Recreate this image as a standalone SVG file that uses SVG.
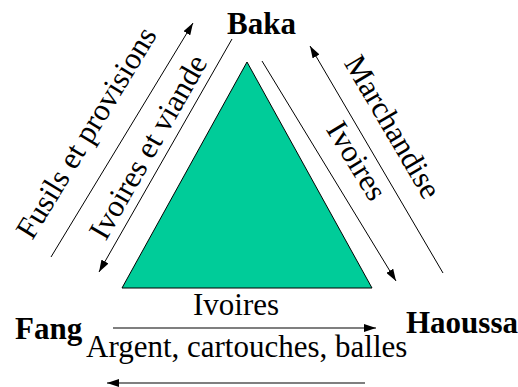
<svg xmlns="http://www.w3.org/2000/svg" width="518" height="387" viewBox="0 0 518 387">
<style>
text{font-family:'Liberation Serif','Times New Roman',serif;font-size:31px;fill:#000}
.b{font-weight:bold}
.ln{stroke:#000;stroke-width:1;fill:none}
.hz{stroke:#555;stroke-width:1.6;fill:none}
</style>
<defs>
<marker id="ah" viewBox="0 0 12 8" refX="12" refY="4" markerWidth="12" markerHeight="8" markerUnits="userSpaceOnUse" orient="auto">
<path d="M0,0 L12,4 L0,8 Z" fill="#000"/>
</marker>
</defs>
<rect width="518" height="387" fill="#fff"/>
<g id="triangle">
<polygon points="247,62 122,288 372,288" fill="#00CC99" stroke="#000" stroke-width="1"/>
</g>
<g id="baka"><text class="b" x="227" y="34">Baka</text></g>
<g id="fang"><text class="b" x="15" y="339">Fang</text></g>
<g id="haoussa"><text class="b" x="406" y="333">Haoussa</text></g>
<g id="connectors">
<line class="ln" x1="51" y1="257" x2="193" y2="23" marker-end="url(#ah)"/>
<line class="ln" x1="232" y1="39" x2="99" y2="272" marker-end="url(#ah)"/>
<line class="ln" x1="262" y1="61" x2="396" y2="281" marker-end="url(#ah)"/>
<line class="ln" x1="443" y1="273" x2="310" y2="46" marker-end="url(#ah)"/>
<line class="hz" x1="113" y1="328" x2="376" y2="328" marker-end="url(#ah)"/>
<line class="hz" x1="365" y1="383" x2="107" y2="383" marker-end="url(#ah)"/>
</g>
<g id="labels">
<text text-anchor="middle" transform="translate(95,138) rotate(-58.7)">Fusils et provisions</text>
<text text-anchor="middle" transform="translate(157,152) rotate(-60.3)">Ivoires et viande</text>
<text text-anchor="middle" transform="translate(348,166) rotate(58.6)">Ivoires</text>
<text text-anchor="middle" transform="translate(384,132) rotate(59.6)">Marchandise</text>
<text x="193" y="315">Ivoires</text>
<text x="86" y="357">Argent, cartouches, balles</text>
</g>
</svg>
